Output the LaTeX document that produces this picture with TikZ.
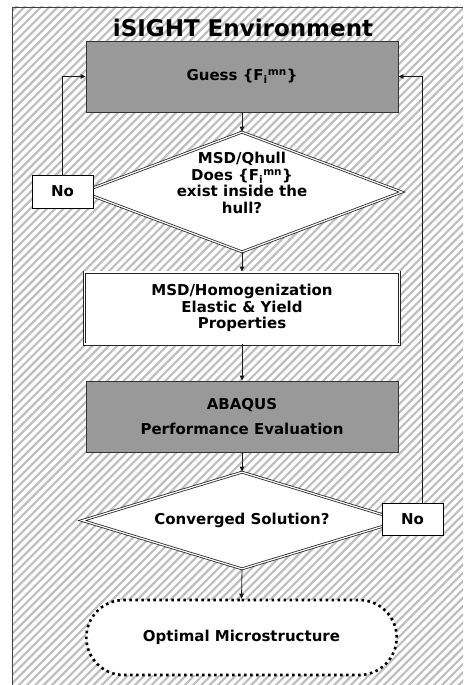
\documentclass[tikz,border=0pt]{standalone}
\usepackage{fontspec}
\setmainfont{DejaVu Sans}
\usetikzlibrary{arrows.meta,shapes.geometric,shapes.misc}
\newcommand{\Fmn}{F\textsubscript{i}\textsuperscript{mn}}
\begin{document}
\begin{tikzpicture}[x=1pt,y=-1pt,
  every node/.style={font=\bfseries\fontsize{15}{16.5}\selectfont},
  box/.style={draw=black!80,line width=0.9pt,minimum width=312pt,minimum height=71pt,inner sep=0pt,align=center},
  graybox/.style={box,fill=black!40},
  dblbox/.style={box,fill=white,double=white,double distance=1.2pt,line width=0.9pt,draw=black!85},
  decision/.style={diamond,draw=black!85,fill=white,double=white,double distance=1.2pt,line width=0.8pt,minimum width=320pt,inner sep=0pt},
  nobox/.style={draw,fill=white,line width=0.9pt,minimum width=61pt,minimum height=33pt,inner sep=0pt},
  goal/.style={rounded rectangle,draw,fill=white,line width=2.6pt,dash pattern=on 2.6pt off 3.4pt,minimum width=317pt,minimum height=75pt},
  flow/.style={-{Triangle[length=5pt,width=4.5pt]},line width=0.8pt,black!90}]
\useasboundingbox (0,0) rectangle (463,685);
% hatched environment
\begin{scope}
\clip (12,7) rectangle (463,685);
\foreach \c in {-700,-691.7,...,470}
  \draw[black!25,line width=2.2pt] (\c,690) -- ++(700,-700);
\end{scope}
\draw[black!75,line width=0.9pt] (12,685) -- (12,7) -- (463,7);
\node (title) at (243,28) {\fontsize{23}{25}\selectfont iSIGHT Environment};

% flow chart
\node[graybox] (guess) at (242,76.5) {Guess \{\Fmn\}};
\node[decision,minimum height=120pt] (hull) at (242,192) {};
\node[align=center] (hulltext) at (242,183) {MSD/Qhull\\Does \{\Fmn\}\\exist inside the\\hull?};
\node[dblbox,minimum width=315pt,minimum height=72pt] (homog) at (242,308) {MSD/Homogenization\\Elastic \& Yield\\Properties};
\node[graybox] (abaqus) at (242,416.5) {ABAQUS\\[8pt]Performance Evaluation};
\node[decision,minimum height=97pt] (conv) at (242,520.5) {};
\node (convtext) at (242,520) {Converged Solution?};
\node[goal] (optimum) at (241.5,637.5) {Optimal Microstructure};
\node[nobox] (noleft) at (62.5,191.5) {No};
\node[nobox,minimum height=32pt] (noright) at (412.5,519) {No};
\coordinate (backup) at ([xshift=9.5pt]noright.north);

\draw[flow] (guess.south) -- (hull.north);
\draw[flow] (hull.south) -- (homog.north);
\draw[flow] (homog.south) -- (abaqus.north);
\draw[flow] (abaqus.south) -- (conv.north);
\draw[flow] (conv.south) -- (optimum.north);
\draw[flow] (noleft.north) |- (guess.west);
\draw[flow] (backup) |- (guess.east);
\end{tikzpicture}
\end{document}
